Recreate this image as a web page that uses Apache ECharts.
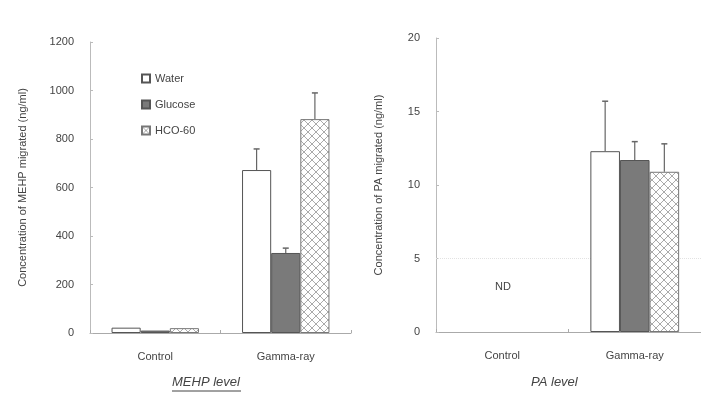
<!DOCTYPE html>
<html><head><meta charset="utf-8">
<script src="https://cdn.jsdelivr.net/npm/echarts@6/dist/echarts.min.js"></script>
<style>html,body{margin:0;padding:0;background:#fff}#c{width:701px;height:401px}</style>
</head><body><div id="c"></div>
<script>
const categories = ['Control', 'Gamma-ray'];
const seriesNames = ['Water', 'Glucose', 'HCO-60'];
// MEHP (ng/ml)
const mehpWater = [22, 672];
const mehpGlucose = [10, 330];
const mehpHCO = [20, 882];
const mehpWaterErr = [0, 87];
const mehpGlucoseErr = [0, 20];
const mehpHCOErr = [0, 108];
// PA (ng/ml); Control not detected
const paWater = [null, 12.3];
const paGlucose = [null, 11.7];
const paHCO = [null, 10.9];
const paWaterErr = [0, 3.4];
const paGlucoseErr = [0, 1.25];
const paHCOErr = [0, 1.9];
const mehpTicks = [0, 200, 400, 600, 800, 1000, 1200];
const paTicks = [0, 5, 10, 15, 20];

function hatch() {
  const c = document.createElement('canvas');
  c.width = 8; c.height = 8;
  const g = c.getContext('2d');
  g.fillStyle = '#fff'; g.fillRect(0, 0, 8, 8);
  g.strokeStyle = '#aaa'; g.lineWidth = 1;
  g.beginPath();
  g.moveTo(0, 0); g.lineTo(8, 8);
  g.moveTo(8, 0); g.lineTo(0, 8);
  g.stroke();
  return c;
}
const hatchPat = { image: hatch(), repeat: 'repeat' };
const fills = ['#ffffff', '#7a7a7a', hatchPat];
const borders = ['#555', '#555', '#777'];
const CAT_GAP = 0.33;
const FONT = 'Liberation Sans, Arial, sans-serif';
const TXT = '#444';

const chart = echarts.init(document.getElementById('c'), null, { renderer: 'canvas' });

function barSeries(gi, name, data, k) {
  return {
    type: 'bar', name: name, xAxisIndex: gi, yAxisIndex: gi, data: data,
    barGap: '0%', barCategoryGap: (CAT_GAP * 100) + '%',
    itemStyle: { color: fills[k], borderColor: borders[k], borderWidth: 1 },
    emphasis: { disabled: true }, silent: true, z: 2
  };
}
function errSeries(gi, vals, errs, k) {
  const d = vals.map((v, i) => [i, v == null ? 0 : v, errs[i]]);
  return {
    type: 'custom', xAxisIndex: gi, yAxisIndex: gi, silent: true, z: 3,
    data: d,
    renderItem: function (params, api) {
      const i = api.value(0), v = api.value(1), e = api.value(2);
      if (!e) return null;
      const band = api.size([1, 0])[0];
      const bw = band * (1 - CAT_GAP) / 3;
      const base = api.coord([i, v]);
      const top = api.coord([i, v + e]);
      const x = base[0] + (k - 1) * bw;
      return {
        type: 'group', children: [
          { type: 'line', shape: { x1: x, y1: base[1], x2: x, y2: top[1] }, style: { stroke: '#666', lineWidth: 1.2 } },
          { type: 'line', shape: { x1: x - 3, y1: top[1], x2: x + 3, y2: top[1] }, style: { stroke: '#666', lineWidth: 1.5 } }
        ]
      };
    }
  };
}
function yAxisDef(gi, max, interval, name, gap) {
  return {
    type: 'value', gridIndex: gi, min: 0, max: max, interval: interval,
    name: name, nameLocation: 'middle', nameGap: gap, nameRotate: 90,
    nameTextStyle: { color: TXT, fontSize: 11, fontFamily: FONT },
    axisLine: { show: true, lineStyle: { color: '#bbb' } },
    axisTick: { show: true, length: 3, inside: true, lineStyle: { color: '#bbb' } },
    axisLabel: { color: TXT, fontSize: 11, fontFamily: FONT, margin: 16, formatter: v => String(v) },
    splitLine: { show: false }
  };
}
function xAxisDef(gi) {
  return {
    type: 'category', gridIndex: gi, data: categories,
    axisLine: { lineStyle: { color: '#aaa' } },
    axisTick: { show: true, alignWithLabel: false, length: 3, inside: true, lineStyle: { color: '#aaa' } },
    axisLabel: { color: TXT, fontSize: 11, fontFamily: FONT, margin: 18 }
  };
}

const option = {
  backgroundColor: '#fff',
  animation: false,
  grid: [
    { left: 90, right: 350, top: 42, bottom: 68 },
    { left: 436, right: 0, top: 38, bottom: 69 }
  ],
  xAxis: [xAxisDef(0), xAxisDef(1)],
  yAxis: [
    yAxisDef(0, 1200, 200, 'Concentration of MEHP migrated (ng/ml)', 62),
    yAxisDef(1, 20, 5, 'Concentration of PA migrated (ng/ml)', 52)
  ],
  legend: {
    data: seriesNames, orient: 'vertical', left: 136, top: 68, itemGap: 15,
    itemWidth: 8, itemHeight: 8, icon: 'rect',
    textStyle: { color: TXT, fontSize: 11, fontFamily: FONT }
  },
  series: [
    barSeries(0, 'Water', mehpWater, 0),
    barSeries(0, 'Glucose', mehpGlucose, 1),
    barSeries(0, 'HCO-60', mehpHCO, 2),
    errSeries(0, mehpWater, mehpWaterErr, 0),
    errSeries(0, mehpGlucose, mehpGlucoseErr, 1),
    errSeries(0, mehpHCO, mehpHCOErr, 2),
    {
      type: 'line', xAxisIndex: 1, yAxisIndex: 1, data: [], z: 1, silent: true,
      markLine: { silent: true, symbol: 'none', label: { show: false }, z: 1,
        lineStyle: { color: '#e2e2e2', type: 'dotted', width: 1 }, data: [{ yAxis: 5 }] }
    },
    barSeries(1, 'Water', paWater, 0),
    barSeries(1, 'Glucose', paGlucose, 1),
    barSeries(1, 'HCO-60', paHCO, 2),
    errSeries(1, paWater, paWaterErr, 0),
    errSeries(1, paGlucose, paGlucoseErr, 1),
    errSeries(1, paHCO, paHCOErr, 2)
  ],
  graphic: [
    { type: 'text', left: 495, top: 281, style: { text: 'ND', fill: TXT, font: '11px ' + FONT } },
    { type: 'text', left: 172, top: 376, style: { text: 'MEHP level', fill: TXT, font: 'italic 13px ' + FONT } },
    { type: 'line', shape: { x1: 172, y1: 391, x2: 241, y2: 391 }, style: { stroke: TXT, lineWidth: 1 } },
    { type: 'text', left: 531, top: 376, style: { text: 'PA level', fill: TXT, font: 'italic 13px ' + FONT } }
  ]
};
chart.setOption(option);
</script>
</body></html>
